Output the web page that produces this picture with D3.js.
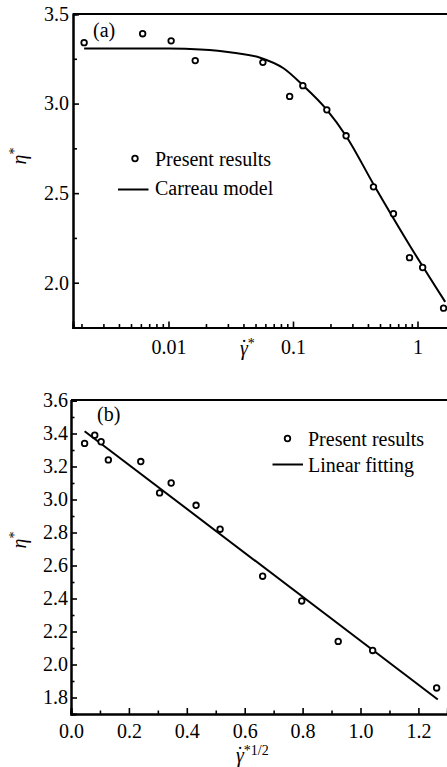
<!DOCTYPE html>
<html>
<head>
<meta charset="utf-8">
<script src="https://cdn.jsdelivr.net/npm/d3@7"></script>
<style>
  html, body { margin: 0; padding: 0; background: #fff; }
  svg { display: block; }
  text { font-family: "Liberation Serif", "Times New Roman", serif; fill: #000; }
</style>
</head>
<body>
<svg id="chart" width="447" height="767"></svg>
<script>
// Simulated viscosity at each shear rate
const shearRate = [0.0021, 0.0062, 0.0105, 0.0164, 0.0573, 0.094, 0.120, 0.187, 0.267, 0.443, 0.641, 0.863, 1.10, 1.62];
const sqrtShearRate = [0.047, 0.082, 0.104, 0.129, 0.241, 0.306, 0.346, 0.432, 0.515, 0.662, 0.797, 0.923, 1.042, 1.263];
const viscosity = [3.34, 3.39, 3.35, 3.24, 3.23, 3.04, 3.10, 2.965, 2.82, 2.535, 2.385, 2.14, 2.085, 1.858];

// Carreau model curve
const carreauRate = [0.0021, 0.01, 0.018, 0.0333, 0.0545, 0.0839, 0.1201, 0.1872, 0.2676, 0.4431, 0.8737, 1.669];
const carreauVisc = [3.308, 3.307, 3.302, 3.284, 3.256, 3.197, 3.102, 2.965, 2.818, 2.550, 2.204, 1.893];

// Linear fit against the square root of the shear rate
const fitX = [0.047, 1.267];
const fitY = [3.414, 1.788];

// Tick labels
const ticksA_x = [0.01, 0.1, 1];
const ticksA_y = [2.0, 2.5, 3.0, 3.5];
const minorA_y = [2.25, 2.75, 3.25];
const ticksB_x = [0.0, 0.2, 0.4, 0.6, 0.8, 1.0, 1.2];
const minorB_x = [0.1, 0.3, 0.5, 0.7, 0.9, 1.1, 1.3];
const ticksB_y = [1.8, 2.0, 2.2, 2.4, 2.6, 2.8, 3.0, 3.2, 3.4, 3.6];
const minorB_y = [1.7, 1.9, 2.1, 2.3, 2.5, 2.7, 2.9, 3.1, 3.3, 3.5];

const svg = d3.select("#chart");
const FS = 20;

function styleAxis(g) {
  g.select(".domain").attr("stroke", "#000").attr("stroke-width", 2);
  g.selectAll(".tick line").attr("stroke", "#000").attr("stroke-width", 1.6);
  g.selectAll(".tick text").style("font-size", FS + "px").attr("fill", "#000");
}

function frame(g, x0, x1, y0) {
  g.append("line").attr("x1", x0).attr("x2", x1).attr("y1", y0).attr("y2", y0)
    .attr("stroke", "#000").attr("stroke-width", 2);
}

function markers(g, xs, ys, xScale, yScale) {
  g.selectAll("circle.pt").data(xs.map((v, i) => [v, ys[i]])).join("circle")
    .attr("class", "pt")
    .attr("cx", d => xScale(d[0])).attr("cy", d => yScale(d[1]))
    .attr("r", 2.8).attr("fill", "#fff").attr("stroke", "#000").attr("stroke-width", 1.8);
}

// italic gamma with an overdot and a superscript, as one text element
function gammaDotTitle(x, y, sup) {
  const t = svg.append("text").attr("x", x).attr("y", y).style("font-size", "20px");
  t.append("tspan").style("font-style", "italic").text("γ");
  t.append("tspan").attr("dx", -7.2).attr("dy", -1).text("˙");
  t.append("tspan").attr("dx", 0.5).attr("dy", -6).style("font-size", "14px").text(sup);
}

function yTitle(x, y) {
  const t = svg.append("text").attr("transform", `translate(${x},${y}) rotate(-90)`)
    .attr("text-anchor", "middle").style("font-size", "20px");
  t.append("tspan").style("font-style", "italic").text("η");
  t.append("tspan").attr("dy", -7).style("font-size", "14px").text("*");
}

// ---------- Panel (a): viscosity vs shear rate (log) ----------
{
  const left = 73, top = 14, bottom = 327.5;
  const x = d3.scaleLog().domain([0.00171, 2]).range([left, left + 124.5 * (Math.log10(2) - Math.log10(0.00171))]);
  const y = d3.scaleLinear().domain([1.75, 3.5]).range([bottom, top]);
  const g = svg.append("g");

  frame(g, left, 447, top);

  const minorX = [];
  [0.001, 0.01, 0.1, 1].forEach(d => { for (let k = 2; k <= 9; k++) { const v = d * k; if (v > 0.00171 && v < 2) minorX.push(v); } });

  g.append("g").attr("transform", `translate(0,${bottom})`)
    .call(d3.axisBottom(x).tickValues(minorX).tickSize(-3.5).tickFormat(""))
    .call(styleAxis);
  g.append("g").attr("transform", `translate(0,${bottom})`)
    .call(d3.axisBottom(x).tickValues(ticksA_x).tickSize(-6).tickPadding(12).tickFormat(d3.format("~g")))
    .call(styleAxis);
  g.append("g").attr("transform", `translate(${left},0)`)
    .call(d3.axisLeft(y).tickValues(minorA_y).tickSize(-4).tickFormat(""))
    .call(styleAxis);
  g.append("g").attr("transform", `translate(${left},0)`)
    .call(d3.axisLeft(y).tickValues(ticksA_y).tickSize(-6).tickPadding(4).tickFormat(d3.format(".1f")))
    .call(styleAxis);

  const line = d3.line().x(d => x(d[0])).y(d => y(d[1])).curve(d3.curveMonotoneX);
  g.append("path").datum(carreauRate.map((v, i) => [v, carreauVisc[i]]))
    .attr("d", line).attr("fill", "none").attr("stroke", "#000").attr("stroke-width", 2);

  markers(g, shearRate, viscosity, x, y);

  g.append("text").attr("x", 93).attr("y", 37).style("font-size", FS + "px").text("(a)");

  // legend
  g.append("circle").attr("cx", 135).attr("cy", 158.5).attr("r", 2.8)
    .attr("fill", "#fff").attr("stroke", "#000").attr("stroke-width", 1.8);
  g.append("text").attr("x", 155).attr("y", 166).style("font-size", FS + "px").text("Present results");
  g.append("line").attr("x1", 118).attr("x2", 148.5).attr("y1", 189.5).attr("y2", 189.5)
    .attr("stroke", "#000").attr("stroke-width", 2);
  g.append("text").attr("x", 155).attr("y", 195).style("font-size", FS + "px").text("Carreau model");

  gammaDotTitle(240, 355, "*");
  yTitle(26, 156);
}

// ---------- Panel (b): viscosity vs square root of shear rate ----------
{
  const left = 71, top = 400, bottom = 714;
  const x = d3.scaleLinear().domain([0, 1.3]).range([left, left + 289.5 * 1.3]);
  const y = d3.scaleLinear().domain([1.7, 3.6]).range([bottom, bottom - 165 * 1.9]);
  const g = svg.append("g");

  frame(g, left, 447, top);

  g.append("g").attr("transform", `translate(0,${bottom})`)
    .call(d3.axisBottom(x).tickValues(minorB_x).tickSize(-3.5).tickFormat(""))
    .call(styleAxis);
  g.append("g").attr("transform", `translate(0,${bottom})`)
    .call(d3.axisBottom(x).tickValues(ticksB_x).tickSize(-6).tickPadding(10).tickFormat(d3.format(".1f")))
    .call(styleAxis);
  g.append("g").attr("transform", `translate(${left},0)`)
    .call(d3.axisLeft(y).tickValues(minorB_y).tickSize(-3.5).tickFormat(""))
    .call(styleAxis);
  g.append("g").attr("transform", `translate(${left},0)`)
    .call(d3.axisLeft(y).tickValues(ticksB_y).tickSize(-6).tickPadding(3).tickFormat(d3.format(".1f")))
    .call(styleAxis);

  const line = d3.line().x(d => x(d[0])).y(d => y(d[1]));
  g.append("path").datum(fitX.map((v, i) => [v, fitY[i]]))
    .attr("d", line).attr("fill", "none").attr("stroke", "#000").attr("stroke-width", 2);

  markers(g, sqrtShearRate, viscosity, x, y);

  g.append("text").attr("x", 97).attr("y", 421).style("font-size", FS + "px").text("(b)");

  // legend
  g.append("circle").attr("cx", 287.5).attr("cy", 438.5).attr("r", 2.8)
    .attr("fill", "#fff").attr("stroke", "#000").attr("stroke-width", 1.8);
  g.append("text").attr("x", 308).attr("y", 446).style("font-size", FS + "px").text("Present results");
  g.append("line").attr("x1", 272.5).attr("x2", 303).attr("y1", 464.5).attr("y2", 464.5)
    .attr("stroke", "#000").attr("stroke-width", 2);
  g.append("text").attr("x", 308).attr("y", 472).style("font-size", FS + "px").text("Linear fitting");

  gammaDotTitle(236, 762, "*1/2");
  yTitle(26, 540);
}
</script>
</body>
</html>
